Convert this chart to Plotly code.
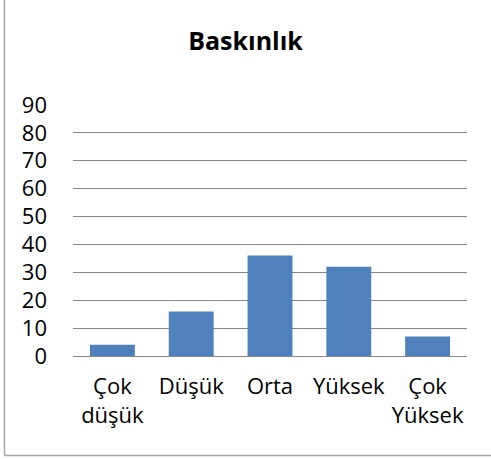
import plotly.graph_objects as go

categories = ["Çok<br>düşük", "Düşük", "Orta", "Yüksek", "Çok<br>Yüksek"]
values = [4, 16, 36, 32, 7]
y_ticks = [0, 10, 20, 30, 40, 50, 60, 70, 80, 90]
title_text = "Baskınlık"

W, H = 491, 459
L, R, T, B = 73, 24, 105, 103
pw, ph = W - L - R, H - T - B

def px_x(px):
    return (px - L) / pw

def px_y(py):
    return (H - B - py) / ph

fig = go.Figure(go.Bar(
    x=categories, y=values,
    marker=dict(color="#4F81BD", line=dict(width=0)),
))

fig.update_layout(
    width=W, height=H,
    margin=dict(l=L, r=R, t=T, b=B, autoexpand=False),
    paper_bgcolor="white", plot_bgcolor="white",
    bargap=0.43,
    showlegend=False,
    font=dict(family="Open Sans", size=22, color="black"),
    title=dict(text="<b>" + title_text + "</b>", x=0.5, xanchor="center",
               y=1 - 41 / H, yanchor="middle",
               font=dict(family="Open Sans", size=25, color="black")),
    xaxis=dict(showgrid=False, showline=True, linecolor="#868686", linewidth=1,
               ticks="", ticklabelstandoff=11, tickfont=dict(size=22),
               automargin=False),
    yaxis=dict(range=[0, 90], tickvals=y_ticks, showgrid=True, gridcolor="#868686",
               gridwidth=1, zeroline=False, showline=False, ticks="",
               ticklabelstandoff=25, tickfont=dict(size=22), automargin=False),
    shapes=[
        dict(type="line", xref="paper", yref="paper",
             x0=px_x(4.5), x1=px_x(4.5), y0=px_y(455.5), y1=px_y(-5),
             line=dict(color="#A6A6A6", width=1.5)),
        dict(type="line", xref="paper", yref="paper",
             x0=px_x(4.5), x1=px_x(500), y0=px_y(455.5), y1=px_y(455.5),
             line=dict(color="#A6A6A6", width=1.5)),
    ],
)

fig.write_html("out.html", config={"displayModeBar": False},
               post_script="document.body.style.margin='0';document.body.style.overflow='hidden';")
